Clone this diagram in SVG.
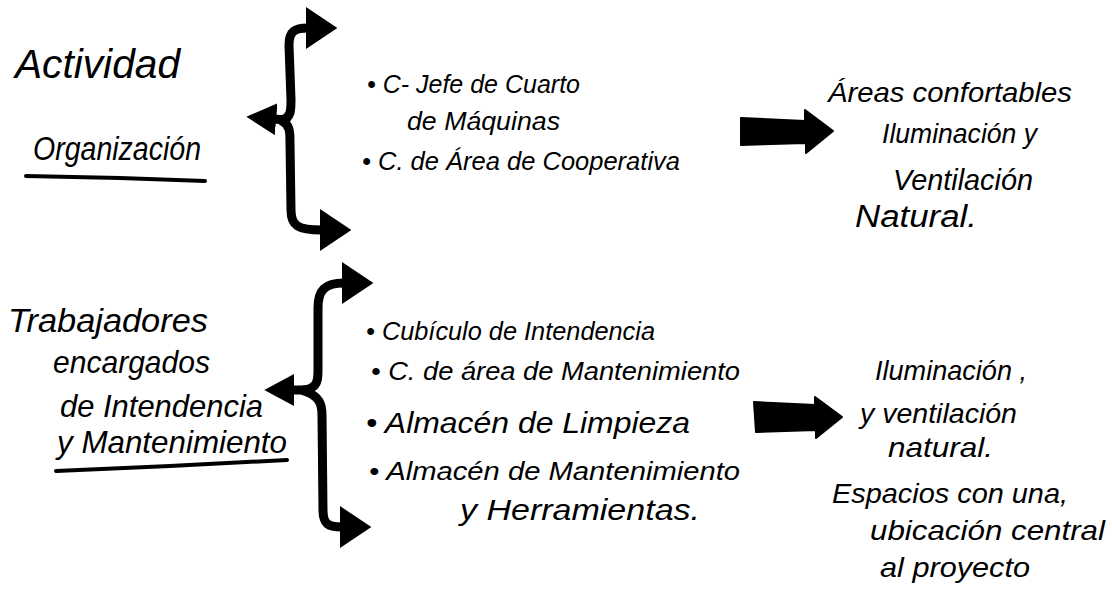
<svg xmlns="http://www.w3.org/2000/svg" width="1112" height="608" viewBox="0 0 1112 608">
<style>
.hw{font-family:"Liberation Sans","DejaVu Sans",sans-serif;font-style:italic;fill:#000;}
.t{font-size:32px;}
.b{font-size:26px;}
.r{font-size:28px;}
.br{fill:none;stroke:#000;stroke-width:9;stroke-linecap:round;stroke-linejoin:round;}
.ul{fill:none;stroke:#000;stroke-width:4;stroke-linecap:round;}
.big{fill:#000;stroke:#000;stroke-width:2;stroke-linejoin:round;}
</style>
<defs>
<marker id="ah" markerUnits="userSpaceOnUse" markerWidth="32" markerHeight="42" viewBox="0 0 30 40" refX="2" refY="20" orient="auto">
<path d="M0,0 L30,20 L0,40 z" fill="#000"/>
</marker>
<marker id="ahs" markerUnits="userSpaceOnUse" markerWidth="30" markerHeight="32" viewBox="0 0 28 30" refX="2" refY="15" orient="auto">
<path d="M0,0 L28,15 L0,30 z" fill="#000"/>
</marker>
</defs>
<rect width="1112" height="608" fill="#fff"/>

<g id="connectors">
<path class="br" d="M282 120 C291 118 291 110 291 100 L289 45 C289 31 295 28 308 28" marker-end="url(#ah)"/>
<path class="br" d="M286 120 L274 119" marker-end="url(#ahs)"/>
<path class="br" d="M282 121 C290 125 290 132 290 142 L291 210 C291 226 298 230 322 230" marker-end="url(#ah)"/>
<path class="br" d="M304 390 C318 388 318 380 318 370 L318 308 C318 290 325 283 344 283" marker-end="url(#ah)"/>
<path class="br" d="M306 390 L292 390" marker-end="url(#ahs)"/>
<path class="br" d="M304 391 C320 396 322 405 322 415 L323 510 C323 524 328 527 342 527" marker-end="url(#ah)"/>
<path class="big" d="M741 118 L805 121 L805 110 L833 131 L806 153 L806 143 L741 145 Z"/>
<path class="big" d="M754 402 L815 405 L815 397 L842 417 L816 438 L816 430 L756 432 Z"/>
</g>

<g id="actividad">
<text class="hw" font-size="40" x="15" y="78" textLength="165" lengthAdjust="spacingAndGlyphs">Actividad</text>
<text class="hw" font-size="34" x="33" y="160" textLength="168" lengthAdjust="spacingAndGlyphs">Organización</text>
<path class="ul" d="M26 176 L120 178 L205 181"/>
</g>

<g id="lista1">
<text class="hw b" x="367" y="93" textLength="213" lengthAdjust="spacingAndGlyphs">• C- Jefe de Cuarto</text>
<text class="hw b" x="407" y="130" textLength="153" lengthAdjust="spacingAndGlyphs">de Máquinas</text>
<text class="hw b" x="362" y="170" textLength="318" lengthAdjust="spacingAndGlyphs">• C. de Área de Cooperativa</text>
</g>

<g id="resultado1">
<text class="hw r" x="828" y="102" textLength="244" lengthAdjust="spacingAndGlyphs">Áreas confortables</text>
<text class="hw r" x="882" y="143" textLength="155" lengthAdjust="spacingAndGlyphs">Iluminación y</text>
<text class="hw" font-size="30" x="893" y="190" textLength="140" lengthAdjust="spacingAndGlyphs">Ventilación</text>
<text class="hw" font-size="31" x="855" y="227" textLength="122" lengthAdjust="spacingAndGlyphs">Natural.</text>
</g>

<g id="trabajadores">
<text class="hw" font-size="33" x="8" y="332" textLength="200" lengthAdjust="spacingAndGlyphs">Trabajadores</text>
<text class="hw t" x="53" y="373" textLength="157" lengthAdjust="spacingAndGlyphs">encargados</text>
<text class="hw t" x="60" y="417" textLength="203" lengthAdjust="spacingAndGlyphs">de Intendencia</text>
<text class="hw t" x="57" y="453" textLength="230" lengthAdjust="spacingAndGlyphs">y Mantenimiento</text>
<path class="ul" d="M56 471 L170 466 L287 460"/>
</g>

<g id="lista2">
<text class="hw b" x="366" y="340" textLength="289" lengthAdjust="spacingAndGlyphs">• Cubículo de Intendencia</text>
<text class="hw b" x="371" y="380" textLength="369" lengthAdjust="spacingAndGlyphs">• C. de área de Mantenimiento</text>
<text class="hw" font-size="30" x="366" y="433" textLength="324" lengthAdjust="spacingAndGlyphs">• Almacén de Limpieza</text>
<text class="hw b" x="369" y="480" textLength="371" lengthAdjust="spacingAndGlyphs">• Almacén de Mantenimiento</text>
<text class="hw" font-size="30" x="460" y="520" textLength="240" lengthAdjust="spacingAndGlyphs">y Herramientas.</text>
</g>

<g id="resultado2">
<text class="hw r" x="875" y="380" textLength="152" lengthAdjust="spacingAndGlyphs">Iluminación ,</text>
<text class="hw r" x="860" y="423" textLength="157" lengthAdjust="spacingAndGlyphs">y ventilación</text>
<text class="hw r" x="888" y="457" textLength="105" lengthAdjust="spacingAndGlyphs">natural.</text>
<text class="hw r" x="832" y="503" textLength="236" lengthAdjust="spacingAndGlyphs">Espacios con una,</text>
<text class="hw r" x="870" y="540" textLength="235" lengthAdjust="spacingAndGlyphs">ubicación central</text>
<text class="hw r" x="880" y="577" textLength="150" lengthAdjust="spacingAndGlyphs">al proyecto</text>
</g>
</svg>
